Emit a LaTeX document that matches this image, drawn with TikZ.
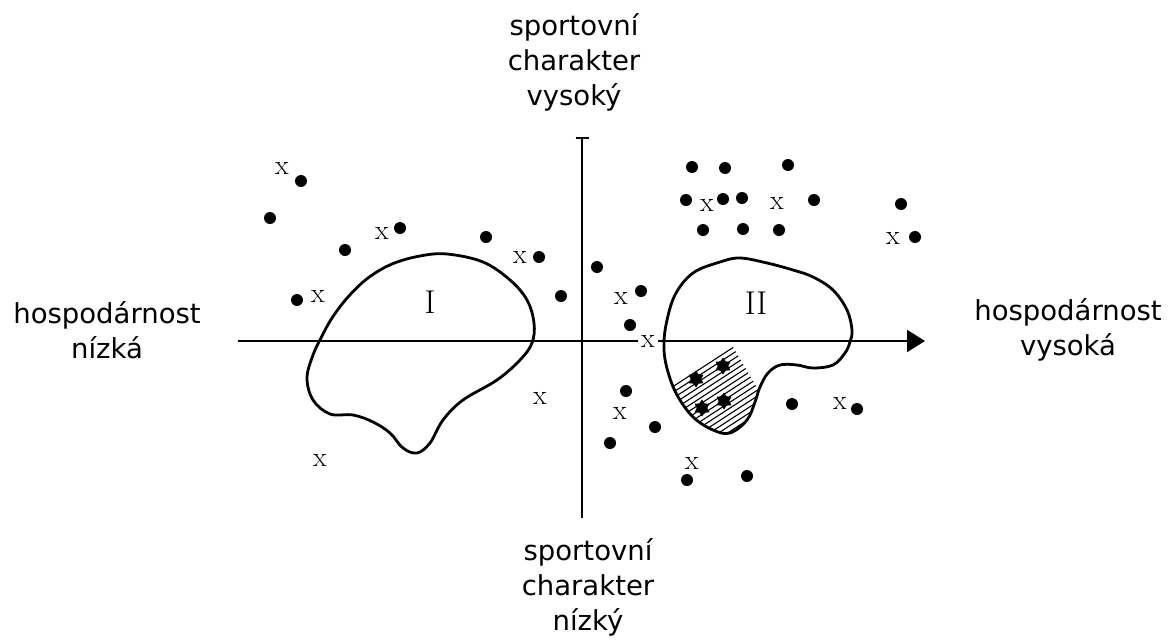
\documentclass[tikz,border=0pt]{standalone}
\usepackage{fontspec}
\newfontfamily\labelfont{DejaVu Sans}
\usetikzlibrary{arrows.meta,shapes.geometric}

\begin{document}
\begin{tikzpicture}[x=1pt, y=-1pt, >={Triangle[length=18pt,width=22pt]},
	axis/.style={line width=2.2pt},
	blob/.style={line width=2.8pt, line join=round},
	dot/.style={circle, fill, inner sep=0pt, minimum size=12pt},
	cross/.style={inner sep=0pt, font=\fontsize{28}{28}\selectfont},
	gem/.style={star, star points=6, star point ratio=1.6, fill, inner sep=0pt, minimum size=17pt},
	roman/.style={font=\fontsize{33}{33}\selectfont},
	lbl/.style={align=center, font=\labelfont\fontsize{27.5}{35}\selectfont}]

	\useasboundingbox (0,0) rectangle (1168,643);

	% === AXES === (((
	\coordinate (west) at (238,341);
	\coordinate (east) at (925,341);
	\coordinate (north) at (582,137);
	\coordinate (south) at (582,518);
	\draw [axis,->] (west) -- (east);
	\draw [axis,{Bar[width=13pt]}-] (north) -- (south);
	% )))

	% === LABELS === (((
	\node [lbl] (high) at (574,62) {sportovní\\charakter\\vysoký};
	\node [lbl] (low) at (588,587) {sportovní\\charakter\\nízký};
	\node [lbl] (cheap) at (107,330) {hospodárnost\\nízká};
	\node [lbl] (dear) at (1068,330) {hospodárnost\\vysoká};
	% )))

	% === GROUPS === (((
	\draw [blob] plot [smooth cycle, tension=0.6] coordinates {
		(313,355) (321,338) (332,318) (348,297) (368,278) (392,264) (420,256)
		(447,254) (483,262) (510,280) (527,300) (534,323) (532,343) (520,360)
		(497,380) (463,400) (443,420) (430,443) (417,453) (403,448) (390,433)
		(373,422) (353,415) (330,414) (313,400) (307,378)};
	\node [roman] (one) at (430,302) {I};

	\begin{scope}
		\clip plot [smooth cycle, tension=0.6] coordinates {
			(664,350) (666,325) (675,295) (693,273) (720,262) (740,258) (767,263)
			(793,270) (813,277) (833,290) (847,310) (852,330) (850,342) (845,353)
			(833,365) (813,368) (797,365) (780,365) (768,373) (760,387) (755,402)
			(747,420) (730,433) (713,430) (693,417) (677,395) (668,372)};
		\clip (655,342) -- (688,342) -- (690,335) -- (728,335) -- (730,342)
			-- (762,396) -- (780,450) -- (655,450) -- cycle;
		\foreach \n in {0,...,32}
			\draw [line width=1.1pt] (560+\n*9,460) --++ (200,-130);
	\end{scope}
	\draw [blob] plot [smooth cycle, tension=0.6] coordinates {
		(664,350) (666,325) (675,295) (693,273) (720,262) (740,258) (767,263)
		(793,270) (813,277) (833,290) (847,310) (852,330) (850,342) (845,353)
		(833,365) (813,368) (797,365) (780,365) (768,373) (760,387) (755,402)
		(747,420) (730,433) (713,430) (693,417) (677,395) (668,372)};
	\node [roman] (two) at (756,303) {II};
	% )))

	% === POINTS === (((
	\foreach \x/\y [count=\i] in {301/181, 270/218, 400/228, 345/250, 486/237,
		539/257, 297/300, 561/296, 692/167, 725/168, 788/165, 686/200, 723/199,
		742/198, 814/200, 703/230, 743/229, 779/230, 901/204, 915/237, 597/267,
		641/291, 630/325, 626/391, 655/427, 610/443, 687/480, 747/476, 792/404,
		857/409}
		\node [dot] (d\i) at (\x,\y) {};
	\foreach \x/\y [count=\i] in {282/168, 382/233, 520/257, 318/296, 707/205,
		777/203, 893/238, 621/298, 540/398, 320/460, 620/413, 692/463, 840/403}
		\node [cross] (x\i) at (\x,\y) {x};
	\node [cross, fill=white, inner sep=3pt] (xaxis) at (648,341) {x};
	\foreach \x/\y [count=\i] in {723/366, 696/379, 724/401, 702/408}
		\node [gem] (s\i) at (\x,\y) {};
	% )))

\end{tikzpicture}
\end{document}
